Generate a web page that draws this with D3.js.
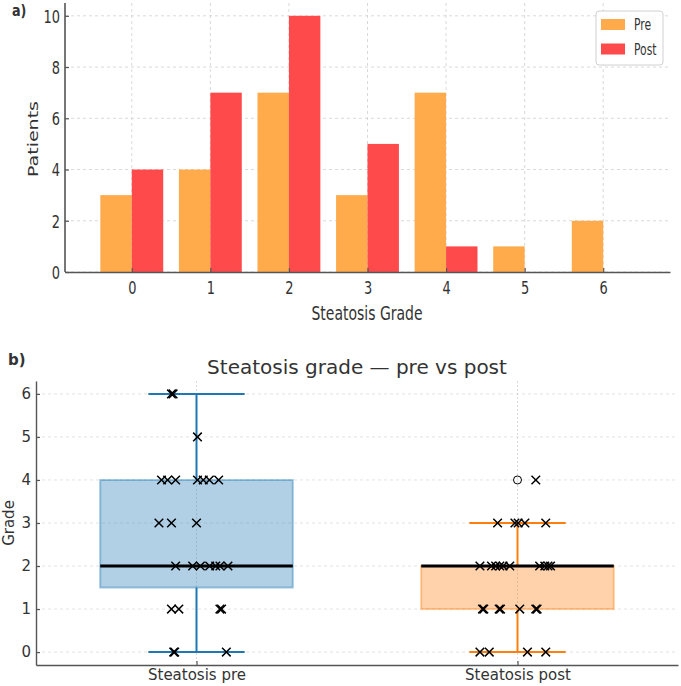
<!DOCTYPE html>
<html><head><meta charset="utf-8">
<script src="https://cdn.jsdelivr.net/npm/d3@7"></script>
<style>body{margin:0;background:#fff}svg{display:block;font-family:"DejaVu Sans",sans-serif}</style>
</head><body><svg id="c" width="681" height="686"></svg>
<script>
// ---------- Data: panel a ----------
const grades = [0, 1, 2, 3, 4, 5, 6];
const preCounts = [3, 4, 7, 3, 7, 1, 2];
const postCounts = [4, 7, 10, 5, 1, 0, 0];
const countTicks = [0, 2, 4, 6, 8, 10];
const seriesNames = ["Pre", "Post"];
const seriesColors = ["#ffaa4b", "#ff4a4c"];

// ---------- Data: panel b ----------
const boxLabels = ["Steatosis pre", "Steatosis post"];
const preGrades =  [6, 6, 5, 4, 4, 4, 4, 4, 4, 4, 3, 3, 3, 2, 2, 2, 2, 2, 2, 2, 1, 1, 1, 1, 0, 0, 0];
const preJitter =  [-0.078, -0.073, 0.003, -0.109, -0.090, -0.065, 0.003, 0.021, 0.040, 0.069,
                    -0.117, -0.078, 0.0, -0.065, -0.012, 0.012, 0.041, 0.060, 0.073, 0.098,
                    -0.078, -0.055, 0.073, 0.078, -0.071, -0.068, 0.093];
const postGrades = [4, 3, 3, 3, 3, 3, 2, 2, 2, 2, 2, 2, 2, 2, 2, 2, 1, 1, 1, 1, 1, 1, 1, 0, 0, 0, 0];
const postJitter = [0.057, -0.062, -0.008, 0.002, 0.023, 0.088,
                    -0.117, -0.081, -0.068, -0.055, -0.045, -0.024, 0.069, 0.085, 0.095, 0.103,
                    -0.109, -0.105, -0.057, -0.053, 0.007, 0.057, 0.061,
                    -0.117, -0.088, 0.031, 0.088];
const gradeTicks = [0, 1, 2, 3, 4, 5, 6];
const boxColors = ["#1f77b4", "#ff7f0e"];

const svg = d3.select("#c");
const TXT = "#333";
const SPINE = "#555";
const SX = 0.72; // horizontal squeeze of panel a text

// ================= Panel a =================
const a = svg.append("g");
const xA = d3.scaleLinear().domain([-0.85, 6.85]).range([65, 670]);
const yA = d3.scaleLinear().domain([0, 10.5]).range([272, 3]);
const bw = 0.4;

// grid
a.append("g").selectAll("line").data(countTicks).join("line")
  .attr("x1", 65).attr("x2", 670).attr("y1", d => yA(d)).attr("y2", d => yA(d))
  .attr("stroke", "#cfcfcf").attr("stroke-width", 0.8).attr("stroke-dasharray", "3,3");
a.append("g").selectAll("line").data(grades).join("line")
  .attr("x1", d => xA(d)).attr("x2", d => xA(d)).attr("y1", 3).attr("y2", 272)
  .attr("stroke", "#cfcfcf").attr("stroke-width", 0.8).attr("stroke-dasharray", "3,3");

// bars
[preCounts, postCounts].forEach((vals, si) => {
  a.append("g").selectAll("rect").data(vals).join("rect")
    .attr("x", (d, i) => xA(grades[i] + (si === 0 ? -bw : 0)))
    .attr("width", xA(bw) - xA(0))
    .attr("y", d => yA(d))
    .attr("height", d => yA(0) - yA(d))
    .attr("fill", seriesColors[si]);
});

// axes
const axA_y = a.append("g").attr("transform", "translate(65,0)")
  .call(d3.axisLeft(yA).tickValues(countTicks).tickSizeInner(-4).tickSizeOuter(0));
const axA_x = a.append("g").attr("transform", "translate(0,272)")
  .call(d3.axisBottom(xA).tickValues(grades).tickSizeInner(-4).tickSizeOuter(0));
[axA_y, axA_x].forEach(g => {
  g.select(".domain").attr("stroke", SPINE).attr("stroke-width", 1.6);
  g.selectAll(".tick line").attr("stroke", SPINE).attr("stroke-width", 1.2);
  g.selectAll("text").attr("fill", TXT).attr("font-size", 18).attr("font-family", "DejaVu Sans");
});
axA_y.select(".domain").attr("d", `M0,${yA(10.5)}V${yA(0)}`);
axA_y.selectAll(".tick text").attr("x", null).attr("dy", "0.35em")
  .attr("text-anchor", "end").attr("transform", `translate(-5,0) scale(${SX},1)`);
axA_x.selectAll(".tick text").attr("y", null).attr("dy", null)
  .attr("text-anchor", "middle").attr("transform", `translate(0,22) scale(${SX},1)`);

// labels
a.append("text").attr("transform", `translate(367,320) scale(0.7,1)`)
  .attr("text-anchor", "middle").attr("font-size", 20).attr("fill", TXT).text("Steatosis Grade");
a.append("text").attr("transform", `translate(38,139) scale(0.71,1) rotate(-90)`)
  .attr("text-anchor", "middle").attr("font-size", 19).attr("fill", TXT).text("Patients");
a.append("text").attr("transform", `translate(12,16) scale(0.85,1)`)
  .attr("font-size", 15).attr("font-weight", "bold").attr("fill", TXT).text("a)");

// legend
const lg = a.append("g");
lg.append("rect").attr("x", 596).attr("y", 11).attr("width", 67).attr("height", 54).attr("rx", 3)
  .attr("fill", "#fff").attr("fill-opacity", 0.85).attr("stroke", "#d0d0d0").attr("stroke-width", 1);
seriesNames.forEach((n, i) => {
  lg.append("rect").attr("x", 601).attr("y", 19 + i * 24.5).attr("width", 24).attr("height", 11)
    .attr("fill", seriesColors[i]);
  lg.append("text").attr("transform", `translate(634,${30 + i * 24.5}) scale(${SX},1)`)
    .attr("font-size", 15).attr("fill", TXT).text(n);
});

// ================= Panel b =================
const b = svg.append("g");
const xB = d3.scaleLinear().domain([0.5, 2.5]).range([36, 678]);
const yB = d3.scaleLinear().domain([-0.3, 6.3]).range([665, 381]);

// title and panel label
b.append("text").attr("x", 357).attr("y", 374).attr("text-anchor", "middle")
  .attr("font-size", 20).attr("fill", TXT).text("Steatosis grade \u2014 pre vs post");
b.append("text").attr("x", 8).attr("y", 365).attr("font-size", 15).attr("font-weight", "bold")
  .attr("fill", TXT).text("b)");

// grid
b.append("g").selectAll("line").data(gradeTicks).join("line")
  .attr("x1", 36).attr("x2", 678).attr("y1", d => yB(d)).attr("y2", d => yB(d))
  .attr("stroke", "#dcdcdc").attr("stroke-width", 0.8).attr("stroke-dasharray", "3,3");
b.append("g").selectAll("line").data([1, 2]).join("line")
  .attr("x1", d => xB(d)).attr("x2", d => xB(d)).attr("y1", 381).attr("y2", 665)
  .attr("stroke", "#d0d0d0").attr("stroke-width", 0.8).attr("stroke-dasharray", "2,2");

// box stats
function stats(v) {
  const s = v.slice().sort(d3.ascending);
  const q1 = d3.quantile(s, 0.25), med = d3.quantile(s, 0.5), q3 = d3.quantile(s, 0.75);
  const iqr = q3 - q1;
  const lo = d3.min(s.filter(x => x >= q1 - 1.5 * iqr));
  const hi = d3.max(s.filter(x => x <= q3 + 1.5 * iqr));
  const out = s.filter(x => x < lo || x > hi);
  return {q1, med, q3, lo, hi, out};
}
const allGrades = [preGrades, postGrades];
const allJitter = [preJitter, postJitter];
const boxW = 0.6, capW = 0.3;

allGrades.forEach((vals, i) => {
  const p = i + 1, st = stats(vals), col = boxColors[i];
  const g = b.append("g");
  g.append("rect").attr("x", xB(p - boxW / 2)).attr("width", xB(boxW) - xB(0))
    .attr("y", yB(st.q3)).attr("height", yB(st.q1) - yB(st.q3))
    .attr("fill", col).attr("fill-opacity", 0.35)
    .attr("stroke", col).attr("stroke-opacity", 0.4).attr("stroke-width", 2);
  // whiskers
  [[st.q1, st.lo], [st.q3, st.hi]].forEach(([from, to]) => {
    g.append("line").attr("x1", xB(p)).attr("x2", xB(p)).attr("y1", yB(from)).attr("y2", yB(to))
      .attr("stroke", col).attr("stroke-width", 2);
    g.append("line").attr("x1", xB(p - capW / 2)).attr("x2", xB(p + capW / 2))
      .attr("y1", yB(to)).attr("y2", yB(to)).attr("stroke", col).attr("stroke-width", 2);
  });
  // median
  g.append("line").attr("x1", xB(p - boxW / 2)).attr("x2", xB(p + boxW / 2))
    .attr("y1", yB(st.med)).attr("y2", yB(st.med)).attr("stroke", "#000").attr("stroke-width", 3);
  // outliers
  g.selectAll("circle").data(st.out).join("circle")
    .attr("cx", xB(p)).attr("cy", d => yB(d)).attr("r", 4)
    .attr("fill", "none").attr("stroke", "#000").attr("stroke-width", 1);
  // jittered points
  const m = 4.3;
  g.append("g").selectAll("path").data(vals).join("path")
    .attr("d", (d, k) => {
      const cx = xB(p + allJitter[i][k]), cy = yB(d);
      return `M${cx - m},${cy - m}L${cx + m},${cy + m}M${cx - m},${cy + m}L${cx + m},${cy - m}`;
    })
    .attr("stroke", "#000").attr("stroke-width", 1.5).attr("fill", "none");
});

// axes
const axB_y = b.append("g").attr("transform", "translate(36,0)")
  .call(d3.axisLeft(yB).tickValues(gradeTicks).tickFormat(d3.format("d"))
    .tickSizeInner(-4).tickSizeOuter(0).tickPadding(5));
const axB_x = b.append("g").attr("transform", "translate(0,665)")
  .call(d3.axisBottom(xB).tickValues([1, 2]).tickFormat((d, i) => boxLabels[i])
    .tickSizeInner(-4).tickSizeOuter(0).tickPadding(4));
[axB_y, axB_x].forEach(g => {
  g.select(".domain").attr("stroke", SPINE).attr("stroke-width", 1.4);
  g.selectAll(".tick line").attr("stroke", SPINE).attr("stroke-width", 1.2);
  g.selectAll("text").attr("fill", TXT).attr("font-size", 15).attr("font-family", "DejaVu Sans");
});
b.append("text").attr("transform", "translate(14,523) rotate(-90)").attr("text-anchor", "middle")
  .attr("font-size", 15).attr("fill", TXT).text("Grade");
</script></body></html>
